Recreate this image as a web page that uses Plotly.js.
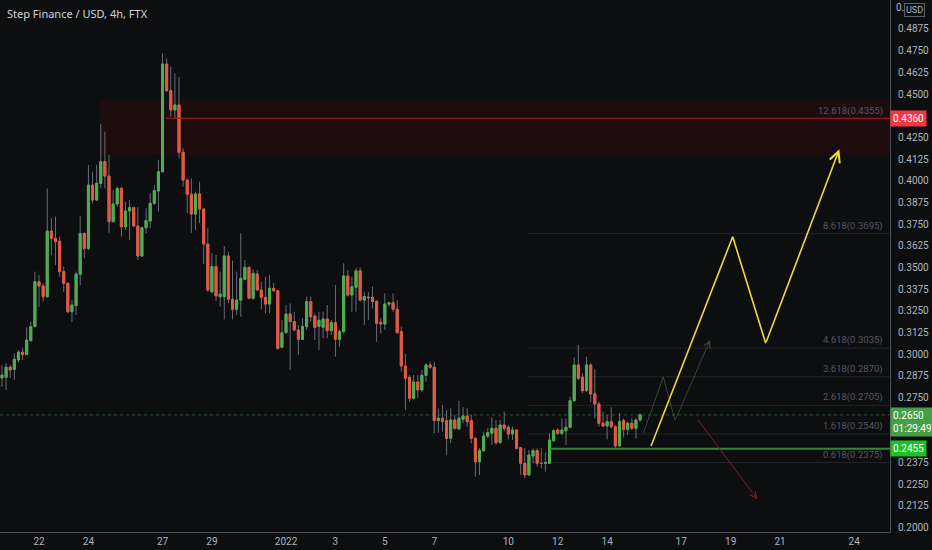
<!DOCTYPE html>
<html>
<head>
<meta charset="utf-8">
<script src="https://cdn.plot.ly/plotly-3.0.1.min.js"></script>
<style>
html,body{margin:0;padding:0;background:#0c0e10;}
#chart{width:932px;height:550px;}
</style>
</head>
<body>
<div id="chart"></div>
<script>
// ---- Data (4h candles, Step Finance / USD, FTX) ----
const firstCandle = '2021-12-20 12:00';
const open = [
.2863,.2867,.2925,.2913,.2967,.3011,.2999,.3078,.3159,.3418,
.3393,.3332,.3710,.3668,.3651,.3476,.3409,.3245,.3280,.3461,
.3697,.3610,.3975,.3889,.3985,.4110,.4027,.3764,.3866,.3956,
.3735,.3826,.3845,.3739,.3566,.3729,.3768,.3870,.3941,.4052,
.4673,.4519,.4408,.4437,.4164,.4004,.3922,.3808,.3924,.3837,
.3635,.3360,.3505,.3332,.3332,.3566,.3317,.3259,.3312,.3432,
.3501,.3322,.3462,.3370,.3328,.3289,.3380,.3366,.3040,.3124,
.3232,.3188,.3140,.3086,.3159,.3303,.3220,.3160,.3155,.3203,
.3136,.3182,.3086,.3130,.3451,.3341,.3386,.3481,.3312,.3328,
.3328,.3303,.3184,.3174,.3289,.3297,.3259,.3130,.2932,.2867,
.2746,.2840,.2794,.2878,.2938,.2925,.2617,.2631,.2617,.2515,
.2621,.2569,.2625,.2644,.2617,.2515,.2380,.2444,.2528,.2544,
.2573,.2490,.2592,.2579,.2540,.2563,.2461,.2371,.2304,.2413,
.2444,.2371,.2371,.2371,.2501,.2563,.2544,.2559,.2579,.2732,
.2938,.2867,.2790,.2938,.2771,.2713,.2602,.2586,.2611,.2582,
.2471,.2617,.2567,.2602,.2573,.2621];
const high = [
.2938,.2948,.2938,.3005,.3024,.3034,.3155,.3188,.3476,.3456,
.3409,.3956,.3784,.3793,.3678,.3505,.3412,.3312,.3476,.3797,
.3700,.4091,.4052,.4091,.4327,.4283,.4148,.3947,.3966,.3966,
.3879,.3889,.3850,.3847,.3735,.3841,.3928,.3975,.4120,.4735,
.4706,.4657,.4619,.4600,.4187,.4014,.4014,.3937,.3995,.3841,
.3726,.3582,.3572,.3476,.3624,.3591,.3539,.3476,.3697,.3543,
.3505,.3489,.3485,.3418,.3447,.3456,.3412,.3370,.3197,.3284,
.3293,.3245,.3168,.3207,.3332,.3332,.3236,.3245,.3245,.3284,
.3197,.3399,.3140,.3524,.3485,.3447,.3495,.3501,.3360,.3360,
.3389,.3312,.3207,.3351,.3303,.3351,.3312,.3159,.3001,.2880,
.2880,.2880,.2909,.2948,.2957,.2957,.2688,.2707,.2678,.2688,
.2650,.2732,.2694,.2688,.2650,.2524,.2458,.2553,.2573,.2636,
.2621,.2621,.2669,.2592,.2582,.2567,.2463,.2458,.2448,.2458,
.2458,.2458,.2433,.2544,.2567,.2573,.2630,.2630,.2755,.2982,
.3053,.2890,.2986,.2948,.2913,.2726,.2669,.2650,.2694,.2592,
.2659,.2630,.2611,.2630,.2630,.2659];
const low = [
.2812,.2794,.2863,.2851,.2952,.2967,.2996,.3072,.3155,.3274,
.3303,.3325,.3572,.3514,.3447,.3360,.3236,.3188,.3226,.3399,
.3553,.3601,.3870,.3885,.3956,.3956,.3700,.3760,.3850,.3678,
.3716,.3658,.3732,.3543,.3562,.3697,.3726,.3860,.3822,.4052,
.4513,.4369,.4360,.4130,.3966,.3812,.3700,.3716,.3755,.3520,
.3360,.3351,.3308,.3274,.3201,.3294,.3201,.3226,.3216,.3428,
.3317,.3312,.3366,.3259,.3236,.3236,.3360,.3024,.3034,.3120,
.2909,.3130,.2996,.3082,.3140,.3188,.3082,.3024,.3092,.3092,
.3111,.2986,.3043,.3120,.3332,.3245,.3245,.3303,.3168,.3197,
.3264,.3072,.3120,.3140,.3274,.3245,.3120,.2899,.2678,.2726,
.2740,.2746,.2784,.2841,.2915,.2544,.2548,.2554,.2419,.2486,
.2563,.2563,.2602,.2582,.2486,.2294,.2304,.2438,.2515,.2477,
.2477,.2486,.2554,.2509,.2505,.2452,.2304,.2285,.2300,.2371,
.2352,.2342,.2323,.2367,.2496,.2534,.2534,.2477,.2573,.2726,
.2851,.2775,.2784,.2726,.2630,.2582,.2579,.2509,.2573,.2457,
.2467,.2521,.2534,.2563,.2515,.2611];
const close = [
.2880,.2925,.2909,.2971,.3011,.2999,.3082,.3159,.3418,.3393,
.3332,.3710,.3668,.3649,.3476,.3409,.3245,.3284,.3462,.3697,
.3610,.3975,.3889,.3985,.4110,.4027,.3764,.3866,.3956,.3735,
.3826,.3845,.3739,.3566,.3729,.3770,.3870,.3943,.4052,.4673,
.4519,.4408,.4437,.4164,.4004,.3922,.3808,.3924,.3837,.3635,
.3370,.3505,.3336,.3347,.3566,.3317,.3259,.3312,.3438,.3501,
.3322,.3466,.3370,.3328,.3289,.3380,.3366,.3034,.3124,.3232,
.3188,.3140,.3086,.3159,.3303,.3216,.3155,.3195,.3203,.3136,
.3182,.3086,.3130,.3451,.3341,.3389,.3481,.3312,.3332,.3326,
.3303,.3178,.3174,.3289,.3297,.3259,.3124,.2932,.2861,.2746,
.2840,.2794,.2878,.2938,.2925,.2617,.2631,.2611,.2515,.2621,
.2573,.2631,.2644,.2611,.2515,.2380,.2444,.2528,.2548,.2573,
.2490,.2592,.2573,.2540,.2563,.2457,.2371,.2304,.2419,.2444,
.2371,.2370,.2375,.2505,.2559,.2544,.2563,.2579,.2732,.2938,
.2861,.2790,.2938,.2771,.2713,.2602,.2586,.2611,.2582,.2471,
.2611,.2567,.2602,.2573,.2621,.2650];

// axis ticks (labels hidden behind price boxes in the original are left out)
const xTickDates = ['2021-12-22','2021-12-24','2021-12-27','2021-12-29','2022-01-01','2022-01-03','2022-01-05','2022-01-07','2022-01-10','2022-01-12','2022-01-14','2022-01-17','2022-01-19','2022-01-21','2022-01-24'];
const xTickText  = ['22','24','27','29','2022','3','5','7','10','12','14','17','19','21','24'];
const yTickVals = [0.2000,0.2125,0.2250,0.2375,0.2750,0.2875,0.3000,0.3125,0.3250,0.3375,0.3500,0.3625,0.3750,0.3875,0.4000,0.4125,0.4250,0.4500,0.4625,0.4750,0.4875];
const yTopCut = 0.5000;  // shown as "0." beside the USD badge
const xRange = ['2021-12-20 10:05','2022-01-25 10:50'];
const yRange = [0.1975, 0.5042];

// drawings
const fibRatios = ['0.618','1.618','2.618','3.618','4.618','8.618','12.618'];
const fibLevels = [0.2375,0.2540,0.2705,0.2870,0.3035,0.3695,0.4355];
const fibStart = '2022-01-10 18:00';
const resistZone = [0.4148, 0.4466];
const resistZoneStart = '2021-12-24 11:00';
const resistLine = 0.4360;
const resistLineStart = '2021-12-27 03:30';
const supportLine = 0.2455;
const supportStart = '2022-01-11 16:30';
const lastPrice = 0.2650;
const countdown = '01:29:49';
const yellowX = ['2022-01-15 18:40','2022-01-19 02:00','2022-01-20 10:05','2022-01-23 09:35'];
const yellowY = [0.2471, 0.3677, 0.3063, 0.4181];
const dimX = ['2022-01-15 11:10','2022-01-16 06:35','2022-01-16 18:00','2022-01-18 04:00'];
const dimY = [0.2544, 0.2870, 0.2617, 0.3082];
const redArrowX = ['2022-01-17 15:05','2022-01-20 01:55'];
const redArrowY = [0.2631, 0.2164];

// ---- build ----
function pad(n){return (n<10?'0':'')+n;}
const t0 = new Date(firstCandle.replace(' ','T')+':00Z').getTime();
const times = open.map((_,i)=>{
  const d = new Date(t0 + i*4*3600*1000);
  return d.getUTCFullYear()+'-'+pad(d.getUTCMonth()+1)+'-'+pad(d.getUTCDate())+' '+pad(d.getUTCHours())+':00';
});
const bodyHigh = open.map((o,i)=>Math.max(o,close[i]));
const bodyLow = open.map((o,i)=>Math.min(o,close[i]));

const GREEN = '#4caf50', RED = '#e9573f', WICK = '#6a6d77', BG = '#0c0e10';
const AXFONT = {family:'Roboto, sans-serif', size:10, color:'#b2b5be'};

const traces = [
  { type:'candlestick', x:times, open:open, high:high, low:low, close:close,
    increasing:{line:{color:WICK,width:1}, fillcolor:WICK},
    decreasing:{line:{color:WICK,width:1}, fillcolor:WICK},
    hoverinfo:'skip', showlegend:false },
  { type:'candlestick', x:times, open:open, high:bodyHigh, low:bodyLow, close:close,
    increasing:{line:{color:GREEN,width:1}, fillcolor:GREEN},
    decreasing:{line:{color:RED,width:1}, fillcolor:RED},
    hoverinfo:'skip', showlegend:false },
  { type:'scatter', mode:'lines', x:yellowX.slice(0,3), y:yellowY.slice(0,3),
    line:{color:'#ecdc3c',width:1.6}, hoverinfo:'skip', showlegend:false },
  { type:'scatter', mode:'lines', x:dimX.slice(0,3), y:dimY.slice(0,3),
    line:{color:'rgba(110,120,95,0.5)',width:1}, hoverinfo:'skip', showlegend:false }
];

const shapes = [
  {type:'rect', xref:'x', yref:'y', x0:resistZoneStart, x1:xRange[1], y0:resistZone[0], y1:resistZone[1],
   fillcolor:'rgba(120,12,12,0.16)', line:{width:0}, layer:'below'},
  {type:'line', xref:'x', yref:'y', x0:resistLineStart, x1:xRange[1], y0:resistLine, y1:resistLine,
   line:{color:'#a81d1d',width:1}},
  {type:'line', xref:'paper', yref:'y', x0:0, x1:1, y0:lastPrice, y1:lastPrice,
   line:{color:'rgba(90,150,90,0.5)',width:1,dash:'dot'}},
  {type:'line', xref:'x', yref:'y', x0:supportStart, x1:xRange[1], y0:supportLine, y1:supportLine,
   line:{color:'#2f8a2f',width:2}}
];
fibLevels.forEach((lv,i)=>{
  if (i === fibLevels.length-1) return; // top level coincides with red line
  shapes.push({type:'line', xref:'x', yref:'y', x0:fibStart, x1:xRange[1], y0:lv, y1:lv,
    line:{color:'rgba(120,125,135,0.2)',width:1}});
});

const annotations = [
  {xref:'paper', yref:'paper', x:0, y:1, xshift:5, yshift:-4, xanchor:'left', yanchor:'top',
   text:'Step Finance / USD, 4h, FTX', showarrow:false,
   font:{family:'Noto Sans, sans-serif', size:11, color:'#d1d4dc'}},
  // arrows
  {xref:'x', yref:'y', axref:'x', ayref:'y', x:yellowX[3], y:yellowY[3], ax:yellowX[2], ay:yellowY[2],
   text:'', showarrow:true, arrowhead:5, arrowsize:1.3, arrowwidth:1.6, arrowcolor:'#ecdc3c', standoff:0},
  {xref:'x', yref:'y', axref:'x', ayref:'y', x:dimX[3], y:dimY[3], ax:dimX[2], ay:dimY[2],
   text:'', showarrow:true, arrowhead:5, arrowsize:1.3, arrowwidth:1, arrowcolor:'rgba(110,120,95,0.5)', standoff:0},
  {xref:'x', yref:'y', axref:'x', ayref:'y', x:redArrowX[1], y:redArrowY[1], ax:redArrowX[0], ay:redArrowY[0],
   text:'', showarrow:true, arrowhead:5, arrowsize:1.3, arrowwidth:1, arrowcolor:'#7d1d1f', standoff:0},
  // right-axis price boxes
  {xref:'paper', yref:'y', x:1, y:resistLine, xanchor:'left', yanchor:'middle', xshift:0,
   text:resistLine.toFixed(4), showarrow:false, bgcolor:'#f23645', borderpad:2,
   font:{family:'Roboto, sans-serif', size:10, color:'#ffffff'}},
  {xref:'paper', yref:'y', x:1, y:lastPrice, xanchor:'left', yanchor:'top', yshift:8,
   text:lastPrice.toFixed(4)+'<br>'+countdown, showarrow:false, bgcolor:'#43a047', borderpad:2, align:'left',
   font:{family:'Roboto, sans-serif', size:10, color:'#ffffff'}},
  {xref:'paper', yref:'y', x:1, y:supportLine, xanchor:'left', yanchor:'middle',
   text:supportLine.toFixed(4), showarrow:false, bgcolor:'#1fbf2a', borderpad:2,
   font:{family:'Roboto, sans-serif', size:10, color:'#ffffff'}},
  {xref:'paper', yref:'y', x:1, y:yTopCut, xanchor:'left', yanchor:'middle', xshift:4,
   text:'0.', showarrow:false, font:AXFONT},
  {xref:'paper', yref:'paper', x:1, y:1, xanchor:'left', yanchor:'top', xshift:14, yshift:-3,
   text:'USD', showarrow:false, bgcolor:BG, bordercolor:'#5d606b', borderwidth:1, borderpad:1,
   font:{family:'Roboto, sans-serif', size:9, color:'#b2b5be'}}
];
fibLevels.forEach((lv,i)=>{
  annotations.push({xref:'paper', yref:'y', x:1, y:lv, xanchor:'right', yanchor:'bottom', xshift:-5, yshift:0,
    text:fibRatios[i]+'('+lv.toFixed(4)+')', showarrow:false,
    font:{family:'Roboto, sans-serif', size:9.5, color:'#555861'}});
});

const layout = {
  width:932, height:550,
  margin:{l:0, r:42, t:0, b:18},
  paper_bgcolor:BG, plot_bgcolor:BG,
  showlegend:false,
  xaxis:{type:'date', range:xRange, tickvals:xTickDates, ticktext:xTickText,
    tickfont:AXFONT,
    showgrid:false, zeroline:false, showline:true, linecolor:'#4a4d56', linewidth:1,
    ticks:'', rangeslider:{visible:false}, fixedrange:true},
  yaxis:{side:'right', range:yRange, tickvals:yTickVals, tickformat:'.4f',
    tickfont:AXFONT,
    showgrid:false, zeroline:false, showline:true, linecolor:'#4a4d56', linewidth:1,
    ticks:'outside', ticklen:5, tickcolor:'rgba(0,0,0,0)', fixedrange:true},
  shapes:shapes,
  annotations:annotations
};

Plotly.newPlot('chart', traces, layout, {staticPlot:true, displayModeBar:false});
</script>
</body>
</html>
